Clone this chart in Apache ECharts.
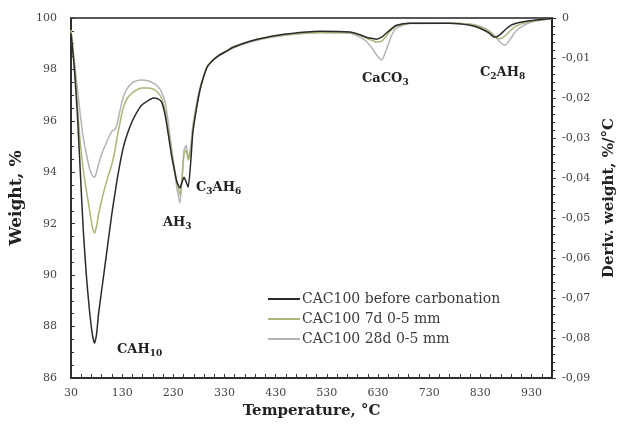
<!DOCTYPE html>
<html>
<head>
<meta charset="utf-8">
<script src="https://cdn.jsdelivr.net/npm/echarts@6/dist/echarts.min.js"></script>
<style>
  html, body { margin: 0; padding: 0; background: #fff; }
  #chart { width: 628px; height: 428px; }
</style>
</head>
<body>
<div id="chart"></div>
<script>
  // temperatures (°C) shared by all three curves
  var temperature = [30, 36, 42, 48, 54, 60, 66, 72, 76, 80, 84, 90, 97, 104, 110, 116, 120, 126, 132, 140,
    149, 158, 168, 180, 191, 200, 207, 214, 220, 226, 232, 237, 243, 247, 251, 255, 259, 264, 268, 275,
    282, 289, 296, 308, 320, 335, 347, 380, 413, 450, 516, 575, 595, 607, 618, 627, 637, 646, 656, 666,
    692, 770, 810, 828, 845, 858, 868, 878, 890, 900, 920, 940, 970];

  // DTG, %/°C
  var beforeCarb = [-0.0038, -0.0118, -0.023, -0.038, -0.053, -0.0643, -0.073, -0.0793, -0.0813, -0.079, -0.0738, -0.068, -0.0613, -0.0545, -0.0488, -0.0438, -0.0405, -0.0362, -0.0325, -0.029,
    -0.026, -0.0237, -0.0218, -0.0207, -0.02, -0.0202, -0.021, -0.0243, -0.029, -0.034, -0.038, -0.041, -0.0425, -0.041, -0.0398, -0.041, -0.0423, -0.036, -0.0288, -0.0228,
    -0.018, -0.0148, -0.0123, -0.0105, -0.0093, -0.0082, -0.0073, -0.0058, -0.0048, -0.004, -0.0033, -0.0035, -0.0042, -0.0048, -0.0051, -0.0053, -0.0048, -0.0038, -0.0027, -0.0018,
    -0.0013, -0.0013, -0.0018, -0.0025, -0.0036, -0.0048, -0.0042, -0.003, -0.0018, -0.0013, -0.0008, -0.0005, -0.0001];

  var carb7d = [-0.003, -0.011, -0.021, -0.031, -0.038, -0.043, -0.0478, -0.0525, -0.0538, -0.052, -0.049, -0.0455, -0.042, -0.039, -0.0365, -0.033, -0.03, -0.026, -0.0225, -0.02,
    -0.0188, -0.018, -0.0175, -0.0175, -0.0178, -0.0187, -0.02, -0.0232, -0.028, -0.033, -0.0375, -0.041, -0.0443, -0.04, -0.034, -0.033, -0.0355, -0.033, -0.028, -0.0225,
    -0.018, -0.0147, -0.0122, -0.0104, -0.0092, -0.0081, -0.0072, -0.0058, -0.0049, -0.0042, -0.0036, -0.0036, -0.0043, -0.005, -0.0056, -0.006, -0.0058, -0.0045, -0.003, -0.002,
    -0.0013, -0.0013, -0.0016, -0.0022, -0.0033, -0.0045, -0.0052, -0.0045, -0.003, -0.002, -0.0011, -0.0006, -0.0001];

  var carb28d = [-0.003, -0.01, -0.017, -0.024, -0.03, -0.034, -0.0375, -0.0395, -0.0398, -0.0385, -0.0365, -0.034, -0.0318, -0.0298, -0.0283, -0.0278, -0.0265, -0.023, -0.0198, -0.0176,
    -0.0163, -0.0157, -0.0155, -0.0157, -0.0163, -0.0172, -0.0185, -0.021, -0.026, -0.032, -0.038, -0.0425, -0.0463, -0.04, -0.033, -0.0318, -0.035, -0.032, -0.027, -0.0218,
    -0.0175, -0.0145, -0.0122, -0.0105, -0.0094, -0.0083, -0.0075, -0.006, -0.005, -0.0043, -0.0037, -0.0038, -0.0048, -0.0058, -0.0075, -0.0092, -0.0105, -0.008, -0.0045, -0.0025,
    -0.0014, -0.0013, -0.0015, -0.002, -0.003, -0.0045, -0.006, -0.0068, -0.005, -0.0032, -0.0015, -0.0007, -0.0001];

  var seriesNames = ["CAC100 before carbonation", "CAC100 7d 0-5 mm", "CAC100 28d 0-5 mm"];
  var xTickLabels = [30, 130, 230, 330, 430, 530, 630, 730, 830, 930];

  // small ticks every 20 °C along the bottom axis
  var xTicks = [];
  for (var t = 30; t <= 970; t += 20) xTicks.push(t);

  function pairs(ys) {
    return temperature.map(function (t, i) { return [t, ys[i]]; });
  }

  var FONT = "DejaVu Serif";
  var chart = echarts.init(document.getElementById("chart"));

  var option = {
    animation: false,
    textStyle: { fontFamily: FONT },
    grid: {
      left: 71, right: 76, top: 18, bottom: 50,
      show: true, borderColor: "#222", borderWidth: 1.5
    },
    legend: {
      data: seriesNames,
      orient: "vertical",
      left: 263, top: 287,
      icon: "rect",
      itemWidth: 32, itemHeight: 2, itemGap: 6,
      textStyle: { fontFamily: FONT, fontSize: 14, color: "#3a3a3a", padding: [0, 0, 0, -3] }
    },
    xAxis: {
      type: "value",
      min: 30, max: 970,
      name: "Temperature, °C",
      nameLocation: "middle",
      nameGap: 26,
      nameTextStyle: { fontFamily: FONT, fontSize: 15, fontWeight: "bold", color: "#222" },
      axisLine: { onZero: false, lineStyle: { color: "#222", width: 1.5 } },
      axisTick: { show: true, inside: true, length: 4, customValues: xTicks, lineStyle: { color: "#333" } },
      splitLine: { show: false },
      axisLabel: {
        margin: 10, fontSize: 11, color: "#444", fontFamily: FONT,
        customValues: xTickLabels
      }
    },
    yAxis: [
      {
        type: "value",
        min: 86, max: 100, interval: 2,
        name: "Weight, %",
        nameLocation: "middle",
        nameGap: 38,
        nameTextStyle: { fontFamily: FONT, fontSize: 17, fontWeight: "bold", color: "#222" },
        axisLine: { show: true, onZero: false, lineStyle: { color: "#222", width: 1.5 } },
        axisTick: { show: true, inside: true, length: 4, lineStyle: { color: "#333" } },
        minorTick: { show: true, splitNumber: 4, length: 3, lineStyle: { color: "#333" } },
        splitLine: { show: false },
        axisLabel: { margin: 14, fontSize: 11, color: "#444", fontFamily: FONT }
      },
      {
        type: "value",
        min: -0.09, max: 0, interval: 0.01,
        position: "right",
        name: "Deriv. weight, %/°C",
        nameLocation: "middle",
        nameRotate: 90,
        nameGap: 50,
        nameTextStyle: { fontFamily: FONT, fontSize: 15, fontWeight: "bold", color: "#222" },
        axisLine: { show: true, onZero: false, lineStyle: { color: "#222", width: 2 } },
        axisTick: { show: true, length: 4, lineStyle: { color: "#333" } },
        minorTick: { show: true, splitNumber: 5, length: 3, lineStyle: { color: "#333" } },
        splitLine: { show: false },
        axisLabel: {
          margin: 10, fontSize: 11, color: "#444", fontFamily: FONT,
          formatter: function (v) {
            if (Math.abs(v) < 1e-9) return "0";
            return v.toFixed(2).replace(".", ",");
          }
        }
      }
    ],
    series: [
      {
        name: seriesNames[2], type: "line", yAxisIndex: 1, z: 2,
        data: pairs(carb28d), showSymbol: false, smooth: 0.2,
        lineStyle: { color: "#b4b4b4", width: 1.5 }, itemStyle: { color: "#b4b4b4" }
      },
      {
        name: seriesNames[1], type: "line", yAxisIndex: 1, z: 3,
        data: pairs(carb7d), showSymbol: false, smooth: 0.2,
        lineStyle: { color: "#a9b878", width: 1.5 }, itemStyle: { color: "#a9b878" }
      },
      {
        name: seriesNames[0], type: "line", yAxisIndex: 1, z: 4,
        data: pairs(beforeCarb), showSymbol: false, smooth: 0.2,
        lineStyle: { color: "#2a2a2a", width: 1.5 }, itemStyle: { color: "#2a2a2a" }
      }
    ],
    graphic: [
      label(117, 341, "CAH", "10"),
      label(163, 214, "AH", "3"),
      label(196, 179, "C", "3", "AH", "6"),
      label(362, 70, "CaCO", "3"),
      label(480, 64, "C", "2", "AH", "8")
    ]
  };

  // peak annotation with subscripts
  function label(x, y, a, sa, b, sb) {
    var txt = "{n|" + a + "}{s|" + sa + "}" + (b ? "{n|" + b + "}{s|" + sb + "}" : "");
    return {
      type: "text", left: x, top: y, z: 10,
      style: {
        text: txt,
        rich: {
          n: { fontFamily: FONT, fontSize: 13, fontWeight: "bold", fill: "#222", lineHeight: 16 },
          s: { fontFamily: FONT, fontSize: 9, fontWeight: "bold", fill: "#222", padding: [8, 0, 0, 0], lineHeight: 16 }
        }
      }
    };
  }

  chart.setOption(option);
  window.addEventListener("resize", function () { chart.resize(); });
</script>
</body>
</html>
